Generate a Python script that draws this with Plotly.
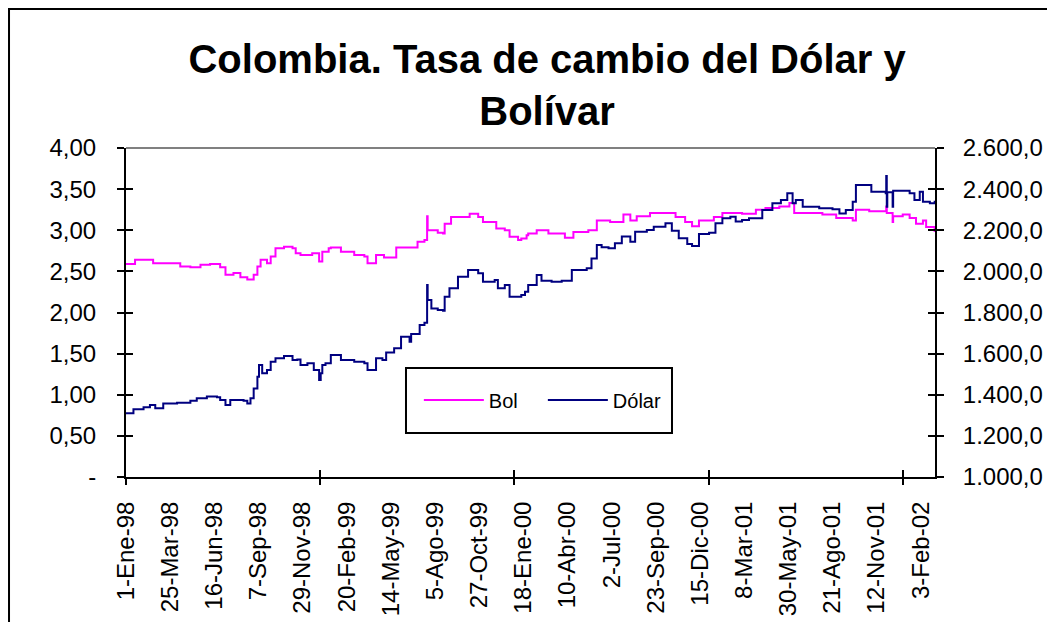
import plotly.graph_objects as go

# ---------------- data ----------------
bol_dates = [
    "1998-01-01", "1998-01-18", "1998-02-09", "1998-02-21", "1998-03-25", "1998-04-13", "1998-05-02", "1998-05-21", "1998-06-08", "1998-06-27",
    "1998-07-07", "1998-07-22", "1998-08-04", "1998-08-17", "1998-08-29", "1998-09-05", "1998-09-11", "1998-09-23", "1998-09-30", "1998-10-09",
    "1998-10-25", "1998-11-10", "1998-11-16", "1998-11-25", "1998-12-17", "1998-12-30",
    "1999-01-05", "1999-01-17", "1999-01-21", "1999-02-09", "1999-03-06", "1999-03-25", "1999-03-31", "1999-04-16", "1999-05-01", "1999-05-24",
    "1999-06-15", "1999-07-03", "1999-07-16", "1999-07-21", "1999-07-22", "1999-08-10", "1999-08-20", "1999-08-23", "1999-09-04", "1999-09-23",
    "1999-10-09", "1999-10-25", "1999-11-03", "1999-11-19", "1999-11-28", "1999-12-14", "1999-12-23",
    "2000-01-08", "2000-01-14", "2000-01-24", "2000-01-27", "2000-02-12", "2000-03-05", "2000-03-24", "2000-04-05", "2000-04-21", "2000-05-19",
    "2000-06-04", "2000-06-16", "2000-06-29", "2000-07-24", "2000-08-06", "2000-08-18", "2000-09-12", "2000-10-11", "2000-10-30", "2000-11-17",
    "2000-11-30", "2000-12-13",
    "2001-01-10", "2001-01-26", "2001-02-10", "2001-03-04", "2001-03-30", "2001-04-17", "2001-05-13", "2001-06-01", "2001-06-10", "2001-07-08",
    "2001-08-02", "2001-08-28", "2001-09-28", "2001-10-04", "2001-10-29", "2001-11-30", "2001-12-01", "2001-12-12", "2001-12-13", "2001-12-31",
    "2002-01-13", "2002-01-25", "2002-02-07", "2002-02-13", "2002-03-01",
]
bol_values = [
    2.59, 2.64, 2.64, 2.60, 2.60, 2.56, 2.55, 2.58, 2.59, 2.55,
    2.46, 2.48, 2.43, 2.40, 2.46, 2.56, 2.64, 2.60, 2.68, 2.78,
    2.80, 2.78, 2.72, 2.70, 2.72, 2.62,
    2.74, 2.78, 2.79, 2.74, 2.70, 2.68, 2.60, 2.70, 2.67, 2.79,
    2.79, 2.86, 2.88, 3.17, 3.00, 2.97, 2.96, 3.08, 3.16, 3.16,
    3.20, 3.16, 3.10, 3.10, 3.02, 3.00, 2.92,
    2.88, 2.90, 2.94, 2.96, 3.00, 2.96, 2.96, 2.91, 2.98, 3.00,
    3.12, 3.12, 3.10, 3.19, 3.12, 3.17, 3.21, 3.21, 3.16, 3.10,
    3.05, 3.12,
    3.16, 3.21, 3.21, 3.20, 3.25, 3.27, 3.29, 3.33, 3.21, 3.21,
    3.19, 3.15, 3.12, 3.25, 3.23, 3.29, 3.21, 3.10, 3.17, 3.19,
    3.15, 3.08, 3.12, 3.04, 2.98,
]

dolar_dates = [
    "1998-01-01", "1998-01-15", "1998-02-03", "1998-02-15", "1998-02-25", "1998-03-12", "1998-04-07", "1998-05-02", "1998-05-14", "1998-06-02",
    "1998-06-21", "1998-06-27", "1998-07-07", "1998-07-16", "1998-08-10", "1998-08-17", "1998-08-23", "1998-08-29", "1998-09-05", "1998-09-08",
    "1998-09-14", "1998-09-23", "1998-09-30", "1998-10-09", "1998-10-25", "1998-11-10", "1998-11-19", "1998-11-25", "1998-12-08", "1998-12-20",
    "1998-12-30",
    "1999-01-02", "1999-01-05", "1999-01-11", "1999-01-21", "1999-02-09", "1999-03-06", "1999-03-25", "1999-03-31", "1999-04-16",
    "1999-04-28", "1999-05-05", "1999-05-20", "1999-06-02", "1999-06-18", "1999-06-21", "1999-07-07", "1999-07-16", "1999-07-21", "1999-07-22",
    "1999-07-29", "1999-08-10", "1999-08-20", "1999-08-23", "1999-09-01", "1999-09-17", "1999-10-06", "1999-10-25", "1999-11-03", "1999-11-25",
    "1999-12-01", "1999-12-14", "1999-12-23",
    "2000-01-08", "2000-01-14", "2000-01-21", "2000-01-27", "2000-02-12", "2000-02-21", "2000-03-11",
    "2000-03-30", "2000-04-18", "2000-05-07", "2000-05-16", "2000-05-25", "2000-06-04", "2000-06-13", "2000-06-26", "2000-07-08", "2000-07-21",
    "2000-08-06", "2000-08-15", "2000-09-06", "2000-09-19", "2000-10-11", "2000-10-23", "2000-11-05", "2000-11-21", "2000-11-30", "2000-12-13",
    "2001-01-01", "2001-01-13", "2001-01-26", "2001-02-10", "2001-02-20", "2001-03-04", "2001-03-17", "2001-04-11", "2001-04-30", "2001-05-16",
    "2001-05-28", "2001-06-04", "2001-06-07", "2001-06-13", "2001-06-26", "2001-07-27", "2001-08-21", "2001-09-03", "2001-09-15", "2001-09-28",
    "2001-10-04", "2001-10-23", "2001-11-02", "2001-11-17", "2001-11-29", "2001-11-30", "2001-12-01", "2001-12-02", "2001-12-12", "2001-12-13",
    "2001-12-19",
    "2002-01-13", "2002-01-22", "2002-02-01", "2002-02-07", "2002-02-20", "2002-03-01",
]
dolar_values = [
    1310, 1329, 1339, 1350, 1334, 1358, 1361, 1371, 1383, 1391,
    1388, 1374, 1350, 1374, 1371, 1358, 1383, 1431, 1488, 1545,
    1504, 1520, 1561, 1577, 1588, 1569, 1572, 1545, 1553, 1520,
    1472,
    1504, 1545, 1553, 1593, 1569, 1561, 1553, 1520, 1577,
    1569, 1605, 1626, 1682, 1658, 1695, 1739, 1750, 1934, 1861,
    1820, 1812, 1808, 1877, 1918, 1974, 2007, 1991, 1950, 1958,
    1918, 1934, 1877,
    1877, 1885, 1901, 1934, 1982, 1955, 1950,
    1955, 2007, 2007, 2015, 2063, 2128, 2117, 2113, 2137, 2169,
    2144, 2193, 2201, 2217, 2234, 2198, 2161, 2133, 2123, 2182,
    2188, 2234, 2258, 2266, 2242, 2250, 2258, 2298, 2331, 2347,
    2380, 2380, 2331, 2347, 2314, 2307, 2302, 2282, 2298, 2339,
    2420, 2420, 2387, 2387, 2380, 2464, 2314, 2385, 2314, 2392,
    2392,
    2380, 2347, 2387, 2339, 2331, 2344,
]

x_label_dates = [
    "1998-01-01", "1998-03-25", "1998-06-16", "1998-09-07", "1998-11-29", "1999-02-20", "1999-05-14",
    "1999-08-05", "1999-10-27", "2000-01-18", "2000-04-10", "2000-07-02", "2000-09-23", "2000-12-15",
    "2001-03-08", "2001-05-30", "2001-08-21", "2001-11-12", "2002-02-03",
]
x_labels = [
    "1-Ene-98", "25-Mar-98", "16-Jun-98", "7-Sep-98", "29-Nov-98", "20-Feb-99", "14-May-99",
    "5-Ago-99", "27-Oct-99", "18-Ene-00", "10-Abr-00", "2-Jul-00", "23-Sep-00", "15-Dic-00",
    "8-Mar-01", "30-May-01", "21-Ago-01", "12-Nov-01", "3-Feb-02",
]
x_tick_marks = ["1998-01-01", "1999-01-01", "2000-01-01", "2001-01-01", "2002-01-01"]
left_ticks = [0, 0.5, 1.0, 1.5, 2.0, 2.5, 3.0, 3.5, 4.0]
left_ticktext = ["-" if v == 0 else f"{v:.2f}".replace(".", ",") for v in left_ticks]
right_ticks = [1000, 1200, 1400, 1600, 1800, 2000, 2200, 2400, 2600]

x_range = ["1998-01-01", "2002-03-01 16:00"]
FONT = "Liberation Sans, Arial, sans-serif"
TICK_SIZE = 24

fig = go.Figure()
fig.add_trace(go.Scatter(x=bol_dates, y=bol_values, name="Bol", mode="lines",
                         line=dict(color="#FF00FF", width=2, shape="hv"),
                         xaxis="x", yaxis="y"))
fig.add_trace(go.Scatter(x=dolar_dates, y=dolar_values, name="Dólar", mode="lines",
                         line=dict(color="#000080", width=2, shape="hv"),
                         xaxis="x", yaxis="y2"))
# empty helper traces so the tick-only overlay axes are drawn
for xa, ya in [("x2", "y"), ("x3", "y"), ("x", "y3"), ("x", "y4")]:
    fig.add_trace(go.Scatter(x=[], y=[], xaxis=xa, yaxis=ya, showlegend=False,
                             hoverinfo="skip"))

tick_common = dict(tickcolor="black", tickwidth=2, ticklen=7, showgrid=False, zeroline=False)

fig.update_layout(
    width=1055, height=622, autosize=False,
    margin=dict(l=118, r=128, t=140, b=153),
    paper_bgcolor="white", plot_bgcolor="white",
    separators=",.",
    font=dict(family=FONT, color="black", size=TICK_SIZE),
    title=dict(text="<b>Colombia. Tasa de cambio del Dólar y<br>Bolívar</b>",
               font=dict(family=FONT, size=40, color="black"),
               x=0.511, xanchor="center", xref="container",
               y=1 - 65 / 622, yanchor="top", yref="container"),
    xaxis=dict(type="date", range=x_range, tickmode="array", tickvals=x_label_dates,
               ticktext=x_labels, tickangle=-90, ticks="", showline=True,
               linecolor="black", linewidth=2, showgrid=False, zeroline=False,
               ticklabelstandoff=13,
               tickfont=dict(size=TICK_SIZE, family=FONT, color="black")),
    xaxis2=dict(type="date", range=x_range, overlaying="x", anchor="y", side="bottom",
                tickmode="array", tickvals=x_tick_marks, ticks="outside",
                showticklabels=False, showline=False, **tick_common),
    xaxis3=dict(type="date", range=x_range, overlaying="x", anchor="y", side="bottom",
                tickmode="array", tickvals=x_tick_marks, ticks="inside",
                showticklabels=False, showline=False, **tick_common),
    yaxis=dict(range=[0, 4], tickmode="array", tickvals=left_ticks, ticktext=left_ticktext,
               ticks="outside", showline=True, linecolor="black", linewidth=2,
               ticklabelstandoff=16,
               tickfont=dict(size=TICK_SIZE, family=FONT, color="black"), **tick_common),
    yaxis3=dict(range=[0, 4], overlaying="y", anchor="x", side="left",
                tickmode="array", tickvals=left_ticks, ticks="inside",
                showticklabels=False, showline=False, **tick_common),
    yaxis2=dict(range=[1000, 2600], overlaying="y", anchor="x", side="right",
                tickmode="array", tickvals=right_ticks, tickformat=",.1f",
                ticks="outside", showline=True, linecolor="black", linewidth=2,
                ticklabelstandoff=14,
                tickfont=dict(size=TICK_SIZE, family=FONT, color="black"), **tick_common),
    yaxis4=dict(range=[1000, 2600], overlaying="y", anchor="x", side="right",
                tickmode="array", tickvals=right_ticks, ticks="inside",
                showticklabels=False, showline=False, **tick_common),
    legend=dict(orientation="h", x=0.362, y=0.234, xanchor="left", yanchor="middle",
                bgcolor="rgba(0,0,0,0)", borderwidth=0, entrywidth=49, itemwidth=60,
                font=dict(family=FONT, size=20, color="black")),
    shapes=[
        dict(type="line", xref="paper", yref="paper", x0=0, x1=1, y0=1, y1=1,
             line=dict(color="#808080", width=2), layer="below"),
        # outer chart frame
        dict(type="rect", xref="paper", yref="paper", x0=-0.1446, x1=1.5,
             y0=-1.0, y1=1.4225, line=dict(color="black", width=2), layer="below"),
        # legend frame
        dict(type="rect", xref="paper", yref="paper", x0=0.3461, x1=0.6749,
             y0=0.1337, y1=0.3313, line=dict(color="black", width=2),
             fillcolor="white", layer="below"),
    ],
)

fig.write_html("out.html")
